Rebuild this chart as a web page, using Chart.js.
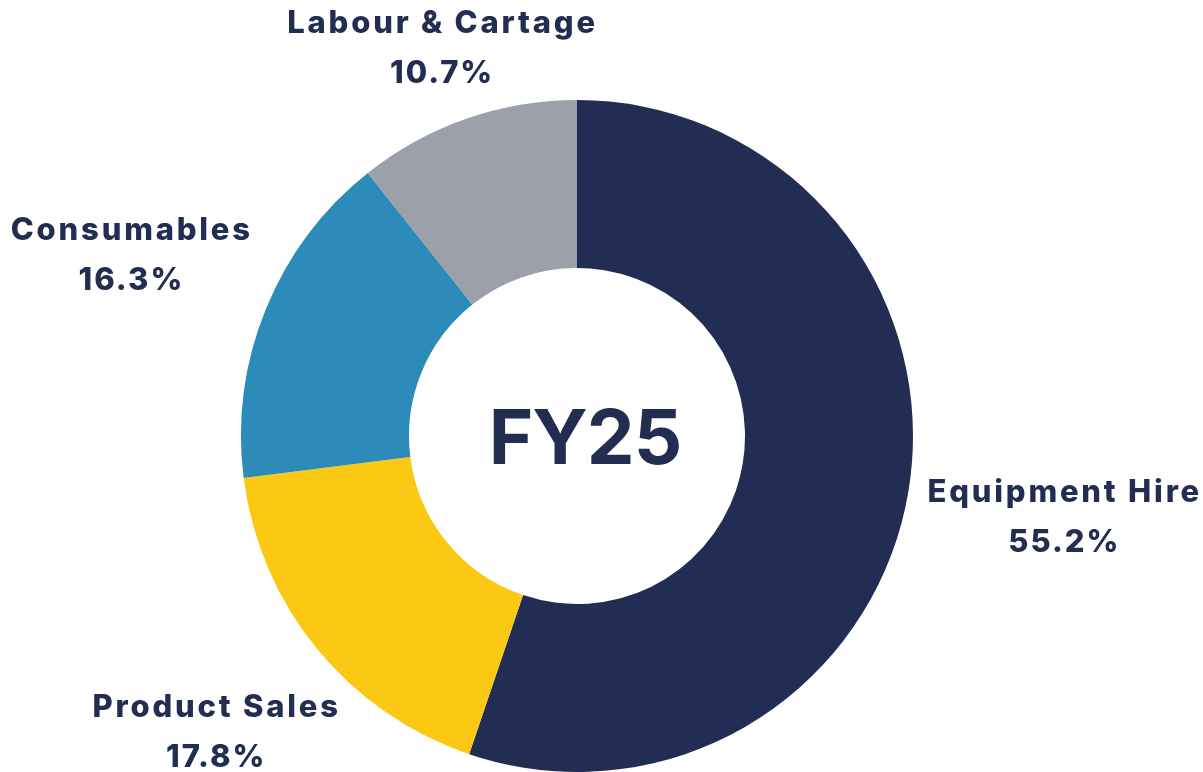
<!DOCTYPE html>
<html>
<head>
<meta charset="utf-8">
<script src="https://cdn.jsdelivr.net/npm/chart.js@4.4.1/dist/chart.umd.min.js"></script>
<style>
    html, body { margin: 0; padding: 0; background: #ffffff; }
    #wrap { width: 1203px; height: 772px; position: relative; }
</style>
</head>
<body>
<div id="wrap"><canvas id="revenueChart"></canvas></div>
<script>
// Revenue split, FY25 (clockwise from 12 o'clock)
const categories = ['Equipment Hire', 'Product Sales', 'Consumables', 'Labour & Cartage'];
const shares = [55.2, 17.8, 16.3, 10.7];
const sliceColours = ['#212d52', '#fbc913', '#2d8bba', '#9ca0a8'];
const centreTitle = 'FY25';

const textColour = '#222d52';
const fontFamily = 'Inter, "Noto Sans", sans-serif';

// Label distance from centre, as a multiple of the outer radius
const labelDistance = [1.467, 1.39, 1.435, 1.226];

// Draws "name / xx.x%" outside each slice and the title in the hole
const outsideLabels = {
    id: 'outsideLabels',
    afterDatasetsDraw(chart) {
        const ctx = chart.ctx;
        const meta = chart.getDatasetMeta(0);
        ctx.save();
        ctx.fillStyle = textColour;
        ctx.textAlign = 'center';
        ctx.textBaseline = 'alphabetic';

        meta.data.forEach((arc, i) => {
            const props = arc.getProps(['x', 'y', 'startAngle', 'endAngle', 'outerRadius'], true);
            const mid = (props.startAngle + props.endAngle) / 2;
            const d = props.outerRadius * labelDistance[i];
            const cx = props.x + Math.cos(mid) * d;
            const cy = props.y + Math.sin(mid) * d;

            // letter spacing adds a trailing gap, so nudge right by half of it
            ctx.font = '800 31px ' + fontFamily;
            ctx.letterSpacing = '2.8px';
            ctx.fillText(categories[i], cx + 1.4, cy - 14);
            ctx.letterSpacing = '2px';
            ctx.fillText(shares[i].toFixed(1) + '%', cx + 1, cy + 36);
        });

        const c = meta.data[0];
        ctx.letterSpacing = '-1px';
        ctx.font = '700 76px ' + fontFamily;
        ctx.fillText(centreTitle, c.x + 8, c.y + 28);
        ctx.restore();
    }
};

const ctx = document.getElementById('revenueChart');

new Chart(ctx, {
    type: 'doughnut',
    data: {
        labels: categories,
        datasets: [{
            data: shares,
            backgroundColor: sliceColours,
            borderWidth: 0
        }]
    },
    options: {
        responsive: true,
        maintainAspectRatio: false,
        animation: false,
        cutout: '50%',
        layout: {
            padding: { top: 100, bottom: 0, left: 0, right: 49 }
        },
        plugins: {
            legend: { display: false },
            tooltip: { enabled: false }
        }
    },
    plugins: [outsideLabels]
});
</script>
</body>
</html>
